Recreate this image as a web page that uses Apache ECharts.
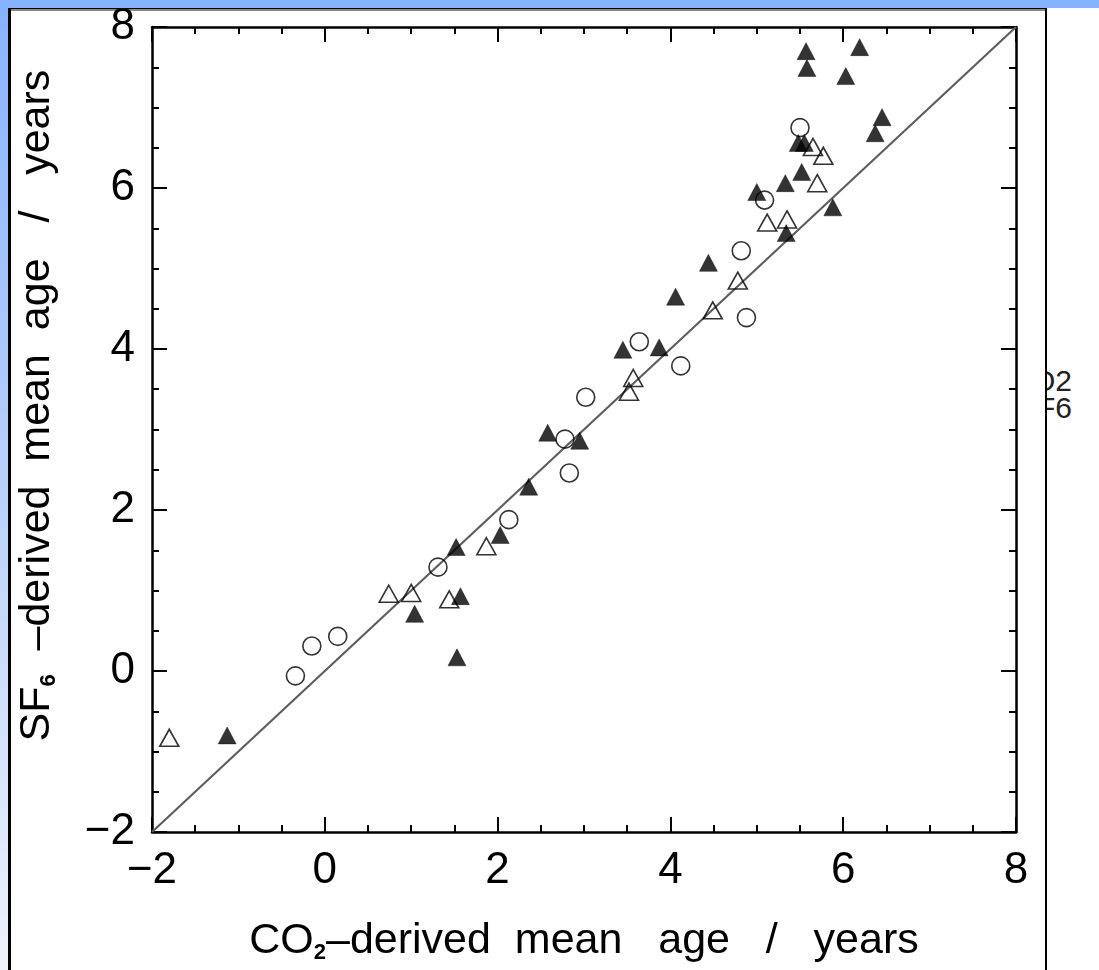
<!DOCTYPE html>
<html>
<head>
<meta charset="utf-8">
<script src="https://cdn.jsdelivr.net/npm/echarts@6/dist/echarts.min.js"></script>
<style>
  html, body { margin: 0; padding: 0; width: 1099px; height: 970px; overflow: hidden; background: #ffffff; }
  #leftStrip { position: absolute; left: 0; top: 0; width: 10px; height: 970px;
    background: linear-gradient(to bottom, #86b3ff 0%, #b4cdfb 45%, #eef2fb 100%); }
  #topBar { position: absolute; left: 0; top: 0; width: 1099px; height: 8px; background: #86b3ff; }
  #sideText { position: absolute; left: 995px; top: 367px; width: 77px; text-align: right;
    font-family: "Liberation Sans", Arial, sans-serif; font-size: 30px; line-height: 27px; color: #222; z-index: 1; }
  #panel { position: absolute; left: 8px; top: 8px; width: 1034px; height: 980px; background: #fff;
    border-left: 3px solid #000; border-right: 2px solid #000; border-top: 1px solid #000;
    box-shadow: inset 0 2px 0 #8a8a8a; z-index: 2; }
  #chart { position: absolute; left: 0; top: 0; width: 1099px; height: 970px; z-index: 3; }
</style>
</head>
<body>
<div id="leftStrip"></div>
<div id="topBar"></div>
<div id="sideText">CO2<br>SF6</div>
<div id="panel"></div>
<div id="chart"></div>
<script>
// ---- data ----
const xRange = [-2, 8];
const yRange = [-2, 8];
const tickStep = 2;
const oneToOneLine = [[-2, -2], [8, 8]];
const filledTriangles = [
  [-1.13, -0.80], [1.04, 0.71], [1.57, 0.93], [1.53, 0.17], [1.52, 1.54],
  [2.03, 1.69], [2.36, 2.29], [2.58, 2.96], [2.95, 2.86], [3.45, 3.99],
  [3.87, 4.02], [4.06, 4.65], [4.44, 5.07], [5.00, 5.95], [5.33, 6.06],
  [5.34, 5.44], [5.52, 6.20], [5.48, 6.56], [5.55, 6.56], [5.88, 5.76],
  [5.57, 7.70], [5.58, 7.49], [6.19, 7.75], [6.03, 7.39], [6.45, 6.88],
  [6.37, 6.68]
];
const openTriangles = [
  [-1.80, -0.83], [0.74, 0.96], [1.00, 0.97], [1.44, 0.89], [1.87, 1.55],
  [3.52, 3.47], [3.57, 3.64], [4.49, 4.48], [4.78, 4.85], [5.12, 5.57],
  [5.35, 5.61], [5.70, 6.06], [5.77, 6.40], [5.65, 6.51]
];
const openCircles = [
  [-0.34, -0.06], [-0.15, 0.31], [0.15, 0.43], [1.31, 1.29], [2.13, 1.88],
  [2.78, 2.88], [2.83, 2.46], [3.02, 3.40], [3.64, 4.09], [4.12, 3.79],
  [4.88, 4.39], [4.82, 5.22], [5.09, 5.85], [5.50, 6.75]
];
const xTitleParts = ['CO', '2', '\u2013derived  mean   age   /   years'];
const yTitleParts = ['    SF', '6', '  \u2013derived  mean  age   /   years'];

// ---- chart ----
const FONT = '"Liberation Sans", Arial, sans-serif';
const chart = echarts.init(document.getElementById('chart'), null, { renderer: 'canvas' });

const titleRich = {
  a: { fontFamily: FONT, fontSize: 43, lineHeight: 46, color: '#000' },
  b: { fontFamily: FONT, fontSize: 22, fontWeight: 'bold', lineHeight: 10, verticalAlign: 'bottom', color: '#000' }
};
function axisBase(show) {
  return {
    axisLine: { show: true, onZero: false, lineStyle: { color: '#000', width: 2.5 } },
    axisTick: { show: true, inside: true, length: 15, lineStyle: { color: '#000', width: 2 } },
    minorTick: { show: true, splitNumber: 4, length: 7, lineStyle: { color: '#000', width: 2 } },
    splitLine: { show: false },
    minorSplitLine: { show: false },
    axisLabel: {
      show: show, fontFamily: FONT, fontSize: 44, color: '#000',
      formatter: v => String(v).replace('-', '\u2212')
    }
  };
}
const xBottom = Object.assign(axisBase(true), {
  type: 'value', position: 'bottom', min: xRange[0], max: xRange[1], interval: tickStep,
  name: '{a|' + xTitleParts[0] + '}{b|' + xTitleParts[1] + '}{a|' + xTitleParts[2] + '}',
  nameLocation: 'middle', nameGap: 86, nameTextStyle: { rich: titleRich }
});
xBottom.axisLabel.margin = 17;
const xTop = Object.assign(axisBase(false), {
  type: 'value', position: 'top', min: xRange[0], max: xRange[1], interval: tickStep
});
const yLeft = Object.assign(axisBase(true), {
  type: 'value', position: 'left', min: yRange[0], max: yRange[1], interval: tickStep,
  name: '{a|' + yTitleParts[0] + '}{b|' + yTitleParts[1] + '}{a|' + yTitleParts[2] + '}',
  nameLocation: 'middle', nameGap: 92, nameRotate: 90, nameTextStyle: { rich: titleRich }
});
yLeft.axisLabel.margin = 17;
const yRight = Object.assign(axisBase(false), {
  type: 'value', position: 'right', min: yRange[0], max: yRange[1], interval: tickStep
});

chart.setOption({
  backgroundColor: 'transparent',
  animation: false,
  grid: { left: 152, top: 27, width: 864, height: 805, containLabel: false },
  xAxis: [xBottom, xTop],
  yAxis: [yLeft, yRight],
  series: [
    {
      type: 'line', data: oneToOneLine, symbol: 'none', silent: true,
      lineStyle: { color: '#5e5e5e', width: 2.2 }, z: 1
    },
    {
      type: 'scatter', data: openCircles, symbol: 'circle', symbolSize: 18,
      itemStyle: { color: 'rgba(0,0,0,0)', borderColor: '#000', borderWidth: 1.6 }, z: 3
    },
    {
      type: 'scatter', data: openTriangles, symbol: 'triangle', symbolSize: [19, 17],
      itemStyle: { color: 'rgba(0,0,0,0)', borderColor: '#000', borderWidth: 1.6 }, z: 3
    },
    {
      type: 'scatter', data: filledTriangles, symbol: 'triangle', symbolSize: [18, 17],
      itemStyle: { color: '#000', borderColor: '#000', borderWidth: 0.5 }, z: 4
    }
  ]
});
</script>
</body>
</html>
